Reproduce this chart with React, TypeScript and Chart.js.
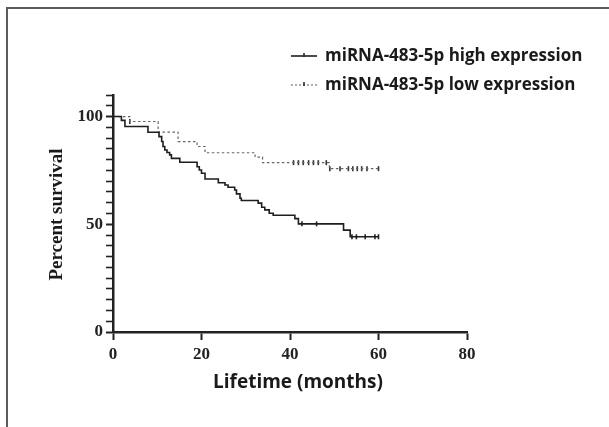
import React, { useEffect, useRef } from 'react';
import { Chart, registerables } from 'chart.js';

Chart.register(...registerables);

// ---- data ----
const seriesNames = ['miRNA-483-5p high expression', 'miRNA-483-5p low expression'];
const highTimes = [0, 1.9, 2.7, 7.9, 10.4, 11.0, 11.3, 11.7, 12.2, 12.8, 13.2, 15.1, 19.0, 19.5, 20.0, 20.8, 23.8, 25.3, 26.0, 27.5, 27.9, 28.7, 29.0, 32.8, 33.6, 34.3, 35.3, 36.2, 41.1, 41.9, 52.1, 53.6, 60];
const highSurv = [100, 98.2, 95.4, 92.7, 90.7, 88.4, 86.1, 84.5, 83.3, 82.2, 80.6, 78.8, 76.7, 75.2, 73.7, 71.0, 69.3, 68.2, 67.2, 65.9, 64.1, 62.1, 61.0, 59.8, 57.9, 56.7, 55.1, 54.2, 52.6, 50.2, 47.3, 44.2, 44.2];
const lowTimes = [0, 3.8, 10.2, 14.7, 19.0, 20.8, 32.1, 33.8, 48.9, 60];
const lowSurv = [100, 97.7, 92.8, 88.4, 86.1, 83.2, 81.2, 78.6, 75.8, 75.8];
const highCensor = [42.7, 46.0, 54.0, 55.0, 57.0, 59.2, 60];
const lowCensor = [3.8, 40.8, 41.9, 43.0, 44.2, 45.3, 46.4, 48.2, 49.0, 51.3, 53.2, 54.2, 55.2, 56.2, 57.4, 60];
const xTicks = [0, 20, 40, 60, 80];
const yLabels = [0, 50, 100];
const yMax = 110;
const yMinorStep = 5;
const xTitle = 'Lifetime (months)';
const yTitle = 'Percent survival';

function survAt(times: number[], surv: number[], t: number) {
  let v = surv[0];
  for (let i = 0; i < times.length; i++) if (times[i] <= t) v = surv[i];
  return v;
}

const decorations = {
  id: 'decorations',
  afterDraw(chart: any) {
    const ctx = chart.ctx as CanvasRenderingContext2D;
    ctx.save();
    // frame lines (left & top)
    ctx.fillStyle = '#5c5c5c';
    ctx.fillRect(6, 7, 2, 420);
    ctx.fillRect(6, 7, 603, 2);

    // legend
    const rows = [
      { y: 56, color: '#1e1e1e', dash: [] as number[], width: 1.6 },
      { y: 85, color: '#777', dash: [2, 2], width: 1.2 },
    ];
    rows.forEach((r, i) => {
      ctx.strokeStyle = r.color;
      ctx.lineWidth = r.width;
      ctx.setLineDash(r.dash);
      ctx.beginPath();
      ctx.moveTo(291, r.y);
      ctx.lineTo(317, r.y);
      ctx.stroke();
      ctx.setLineDash([]);
      ctx.lineWidth = 1.5;
      ctx.strokeStyle = '#222';
      ctx.beginPath();
      ctx.moveTo(304, r.y - 3);
      ctx.lineTo(304, r.y + 1);
      ctx.stroke();
      ctx.fillStyle = '#1a1a1a';
      ctx.font = 'bold 17px "Open Sans"';
      ctx.textAlign = 'left';
      ctx.textBaseline = 'middle';
      ctx.fillText(seriesNames[i], 325, r.y);
    });

    // axis titles
    const ca = chart.chartArea;
    ctx.fillStyle = '#1a1a1a';
    ctx.font = 'bold 19px "Open Sans"';
    ctx.textAlign = 'center';
    ctx.textBaseline = 'middle';
    ctx.fillText(xTitle, 298, 383);

    ctx.save();
    ctx.translate(57, (ca.top + ca.bottom) / 2 + 1);
    ctx.rotate(-Math.PI / 2);
    ctx.font = 'bold 19px "Liberation Serif"';
    ctx.fillText(yTitle, 0, 0);
    ctx.restore();
    ctx.restore();
  },
};

export default function App() {
  const ref = useRef<HTMLCanvasElement | null>(null);
  useEffect(() => {
    if (!ref.current) return;
    const chart = new Chart(ref.current, {
      type: 'line',
      data: {
        datasets: [
          {
            label: seriesNames[0],
            data: highTimes.map((t, i) => ({ x: t, y: highSurv[i] })),
            borderColor: '#1e1e1e',
            borderWidth: 1.6,
            stepped: 'before',
            pointRadius: 0,
            fill: false,
          },
          {
            label: seriesNames[1],
            data: lowTimes.map((t, i) => ({ x: t, y: lowSurv[i] })),
            borderColor: '#666',
            borderWidth: 1.2,
            borderDash: [2.5, 2.5],
            stepped: 'before',
            pointRadius: 0,
            fill: false,
          },
          {
            label: 'high censored',
            data: highCensor.map((t) => ({ x: t, y: survAt(highTimes, highSurv, t) })),
            showLine: false,
            pointStyle: 'line',
            rotation: 90,
            pointRadius: 2.5,
            pointBorderWidth: 1.6,
            pointBorderColor: '#222',
            borderColor: '#222',
          },
          {
            label: 'low censored',
            data: lowCensor.map((t) => ({ x: t, y: survAt(lowTimes, lowSurv, t) })),
            showLine: false,
            pointStyle: 'line',
            rotation: 90,
            pointRadius: 2.5,
            pointBorderWidth: 1.6,
            pointBorderColor: '#333',
            borderColor: '#333',
          },
        ],
      } as any,
      options: {
        animation: false,
        responsive: false,
        devicePixelRatio: 1,
        layout: { padding: { left: 13, right: 142, top: 95, bottom: 35 } },
        plugins: { legend: { display: false }, tooltip: { enabled: false } },
        scales: {
          x: {
            type: 'linear',
            min: xTicks[0],
            max: xTicks[xTicks.length - 1],
            afterBuildTicks: (s: any) => {
              s.ticks = xTicks.map((v) => ({ value: v }));
            },
            afterFit: (s: any) => {
              s.height = 60;
            },
            ticks: {
              autoSkip: false,
              maxRotation: 0,
              padding: 4,
              color: '#222',
              font: { family: '"Liberation Serif"', weight: 'bold', size: 17 },
            },
            grid: { drawOnChartArea: false, drawTicks: true, tickLength: 8, tickColor: '#222', tickWidth: 2 },
            border: { display: true, color: '#222', width: 2.5 },
          },
          y: {
            type: 'linear',
            min: 0,
            max: yMax,
            afterBuildTicks: (s: any) => {
              const t = [];
              for (let v = 0; v <= yMax; v += yMinorStep) t.push({ value: v });
              s.ticks = t;
            },
            afterFit: (s: any) => {
              s.width = 100;
            },
            ticks: {
              autoSkip: false,
              padding: 3,
              color: '#222',
              font: { family: '"Liberation Serif"', weight: 'bold', size: 17 },
              callback: (v: any) => (yLabels.includes(Number(v)) ? String(v) : ''),
            },
            grid: {
              drawOnChartArea: false,
              drawTicks: true,
              tickLength: 7,
              tickColor: '#222',
              tickWidth: (c: any) => (c.tick && yLabels.includes(c.tick.value) ? 2 : 1.6),
            },
            border: { display: true, color: '#222', width: 2.5 },
          },
        },
      } as any,
      plugins: [decorations],
    });
    return () => chart.destroy();
  }, []);

  return (
    <div style={{ position: 'fixed', left: 0, top: 0, width: 609, height: 427, background: '#fff' }}>
      <canvas ref={ref} width={609} height={427} style={{ display: 'block' }} />
    </div>
  );
}
